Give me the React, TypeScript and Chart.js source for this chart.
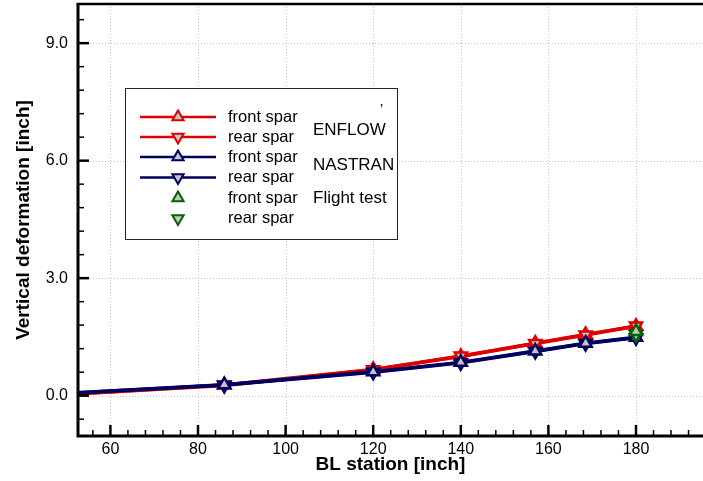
import React, { useEffect, useRef } from "react";
import { Chart, registerables } from "chart.js";

Chart.register(...registerables);

// ---- data ----
const stations = [50, 86, 120, 140, 157, 168.5, 180];
const enflowFront = [0.03, 0.27, 0.67, 1.0, 1.34, 1.56, 1.77];
const enflowRear = [0.03, 0.26, 0.66, 1.01, 1.33, 1.55, 1.78];
const nastranFront = [0.06, 0.28, 0.61, 0.85, 1.14, 1.34, 1.49];
const nastranRear = [0.06, 0.27, 0.6, 0.84, 1.13, 1.33, 1.48];
const flightStations = [180];
const flightFront = [1.64];
const flightRear = [1.56];

const xTicks = [60, 80, 100, 120, 140, 160, 180];
const yTicks = [0, 3, 6, 9];
const xMinorStep = 4;
const yMinorStep = 0.6;

const legendRows = ["front spar", "rear spar", "front spar", "rear spar", "front spar", "rear spar"];
const legendGroups = ["ENFLOW", "NASTRAN", "Flight test"];

const RED = "#e00000";
const NAVY = "#00005e";
const GREEN = "#006400";
const MARK_FILL = "#c4c4c4";
const FONT = "'Liberation Sans', Arial, Helvetica, sans-serif";

const pts = (xs: number[], ys: number[]) => xs.map((x, i) => ({ x, y: ys[i] }));

function tri(ctx: CanvasRenderingContext2D, x: number, y: number, r: number, down: boolean, color: string) {
  let a = down ? Math.PI : 0;
  ctx.beginPath();
  for (let i = 0; i < 3; i++) {
    const px = x + Math.sin(a) * r;
    const py = y - Math.cos(a) * r;
    if (i === 0) ctx.moveTo(px, py);
    else ctx.lineTo(px, py);
    a += (2 * Math.PI) / 3;
  }
  ctx.closePath();
  ctx.fillStyle = MARK_FILL;
  ctx.fill();
  ctx.lineWidth = 2;
  ctx.strokeStyle = color;
  ctx.stroke();
}

const framePlugin = {
  id: "framePlugin",
  beforeDatasetsDraw(chart: any) {
    const { ctx, chartArea: a, scales } = chart;
    const x = scales.x;
    const y = scales.y;
    ctx.save();
    ctx.strokeStyle = "#c8c8c8";
    ctx.lineWidth = 1;
    ctx.setLineDash([1, 2]);
    xTicks.forEach((v) => {
      const px = Math.round(x.getPixelForValue(v)) + 0.5;
      ctx.beginPath();
      ctx.moveTo(px, a.top);
      ctx.lineTo(px, a.bottom);
      ctx.stroke();
    });
    yTicks.forEach((v) => {
      const py = Math.round(y.getPixelForValue(v)) + 0.5;
      ctx.beginPath();
      ctx.moveTo(a.left, py);
      ctx.lineTo(a.right, py);
      ctx.stroke();
    });
    ctx.restore();
  },
  afterDatasetsDraw(chart: any) {
    const { ctx, chartArea: a, scales } = chart;
    const x = scales.x;
    const y = scales.y;
    ctx.save();
    ctx.strokeStyle = "#000";
    ctx.lineCap = "butt";
    // minor ticks
    ctx.lineWidth = 1.5;
    for (let v = Math.ceil(x.min / xMinorStep) * xMinorStep; v <= x.max; v += xMinorStep) {
      if (xTicks.includes(v)) continue;
      const px = x.getPixelForValue(v);
      ctx.beginPath();
      ctx.moveTo(px, a.bottom);
      ctx.lineTo(px, a.bottom - 6);
      ctx.stroke();
    }
    for (let k = Math.ceil(y.min / yMinorStep); k * yMinorStep <= y.max; k++) {
      const v = Math.round(k * yMinorStep * 10) / 10;
      if (yTicks.includes(v)) continue;
      const py = y.getPixelForValue(v);
      ctx.beginPath();
      ctx.moveTo(a.left, py);
      ctx.lineTo(a.left + 6, py);
      ctx.stroke();
    }
    // major ticks
    ctx.lineWidth = 2.5;
    xTicks.forEach((v) => {
      const px = x.getPixelForValue(v);
      ctx.beginPath();
      ctx.moveTo(px, a.bottom);
      ctx.lineTo(px, a.bottom - 11);
      ctx.stroke();
    });
    yTicks.forEach((v) => {
      const py = y.getPixelForValue(v);
      ctx.beginPath();
      ctx.moveTo(a.left, py);
      ctx.lineTo(a.left + 11, py);
      ctx.stroke();
    });
    // axes / frame
    ctx.lineWidth = 3;
    ctx.beginPath();
    ctx.moveTo(a.left, a.top);
    ctx.lineTo(a.left, a.bottom);
    ctx.lineTo(a.right, a.bottom);
    ctx.stroke();
    ctx.lineWidth = 2.5;
    ctx.beginPath();
    ctx.moveTo(a.left - 1.5, a.top);
    ctx.lineTo(a.right, a.top);
    ctx.stroke();
    ctx.restore();
  },
  afterDraw(chart: any) {
    const { ctx } = chart;
    ctx.save();
    // legend box
    ctx.fillStyle = "#fff";
    ctx.fillRect(125, 88, 273, 151);
    ctx.strokeStyle = "#222";
    ctx.lineWidth = 1;
    ctx.strokeRect(125.5, 88.5, 272, 151);
    const rowsY = [117, 137, 157, 177.5, 198, 218.5];
    const colors = [RED, RED, NAVY, NAVY, GREEN, GREEN];
    rowsY.forEach((ry, i) => {
      if (i < 4) {
        ctx.strokeStyle = colors[i];
        ctx.lineWidth = 2.5;
        ctx.beginPath();
        ctx.moveTo(140, ry);
        ctx.lineTo(216, ry);
        ctx.stroke();
      }
      tri(ctx, 178, ry, 6.5, i % 2 === 1, colors[i]);
      ctx.fillStyle = "#000";
      ctx.font = `16.5px ${FONT}`;
      ctx.textBaseline = "middle";
      ctx.textAlign = "left";
      ctx.fillText(legendRows[i], 228, ry);
    });
    ctx.fillStyle = "#000";
    ctx.font = `17px ${FONT}`;
    ctx.fillText(legendGroups[0], 313, 130);
    ctx.fillText(legendGroups[1], 313, 165);
    ctx.fillText(legendGroups[2], 313, 198.5);
    ctx.font = `14px ${FONT}`;
    ctx.fillText("\u2019", 380, 110);
    ctx.restore();
  },
};

const baseLine = (label: string, xs: number[], ys: number[], color: string, down: boolean, order: number, line: boolean) => ({
  label,
  data: pts(xs, ys),
  borderColor: color,
  backgroundColor: MARK_FILL,
  borderWidth: 3.5,
  showLine: line,
  pointStyle: "triangle",
  pointRotation: down ? 180 : 0,
  pointRadius: 7,
  pointBorderWidth: 2.5,
  pointBorderColor: color,
  pointBackgroundColor: MARK_FILL,
  tension: 0,
  clip: 0,
  order,
});

export default function App() {
  const ref = useRef<HTMLCanvasElement>(null);
  useEffect(() => {
    document.body.style.margin = "0";
    Chart.defaults.font.family = FONT;
    const chart = new Chart(ref.current as HTMLCanvasElement, {
      type: "scatter",
      data: {
        datasets: [
          baseLine("ENFLOW front spar", stations, enflowFront, RED, false, 3, true),
          baseLine("ENFLOW rear spar", stations, enflowRear, RED, true, 2, true),
          baseLine("NASTRAN front spar", stations, nastranFront, NAVY, false, 1, true),
          baseLine("NASTRAN rear spar", stations, nastranRear, NAVY, true, 1, true),
          baseLine("Flight test front spar", flightStations, flightFront, GREEN, false, 0, false),
          baseLine("Flight test rear spar", flightStations, flightRear, GREEN, true, 0, false),
        ] as any,
      },
      options: {
        animation: false,
        responsive: false,
        layout: { autoPadding: false, padding: { top: 4, left: 0, right: 0, bottom: 0 } },
        plugins: { legend: { display: false }, tooltip: { enabled: false } },
        scales: {
          x: {
            type: "linear",
            min: 52.6,
            max: 195.3,
            afterBuildTicks: (s: any) => {
              s.ticks = xTicks.map((v) => ({ value: v }));
            },
            afterFit: (s: any) => {
              s.height = 45;
              s.paddingLeft = 0;
              s.paddingRight = 0;
              s.paddingTop = 0;
              s.paddingBottom = 0;
            },
            grid: { display: false, drawTicks: false },
            border: { display: false },
            ticks: {
              color: "#000",
              font: { size: 16 },
              padding: 4,
              maxRotation: 0,
              autoSkip: false,
              callback: (v: any) => String(v),
            },
            title: {
              display: true,
              text: "BL station [inch]",
              color: "#000",
              font: { size: 19, weight: "bold" },
              padding: { top: 0, bottom: 5 },
            },
          },
          y: {
            type: "linear",
            min: -1.03,
            max: 10.0,
            afterBuildTicks: (s: any) => {
              s.ticks = yTicks.map((v) => ({ value: v }));
            },
            afterFit: (s: any) => {
              s.width = 78;
              s.paddingLeft = 0;
              s.paddingRight = 0;
              s.paddingTop = 0;
              s.paddingBottom = 0;
            },
            grid: { display: false, drawTicks: false },
            border: { display: false },
            ticks: {
              color: "#000",
              font: { size: 16 },
              padding: 10,
              callback: (v: any) => Number(v).toFixed(1),
            },
            title: {
              display: true,
              text: "Vertical deformation [inch]",
              color: "#000",
              font: { size: 19, weight: "bold" },
              padding: { top: 12, bottom: 0 },
            },
          },
        },
      },
      plugins: [framePlugin],
    });
    return () => chart.destroy();
  }, []);
  return (
    <div style={{ width: 703, height: 481 }}>
      <canvas ref={ref} width={703} height={481} style={{ width: 703, height: 481, display: "block" }} />
    </div>
  );
}
